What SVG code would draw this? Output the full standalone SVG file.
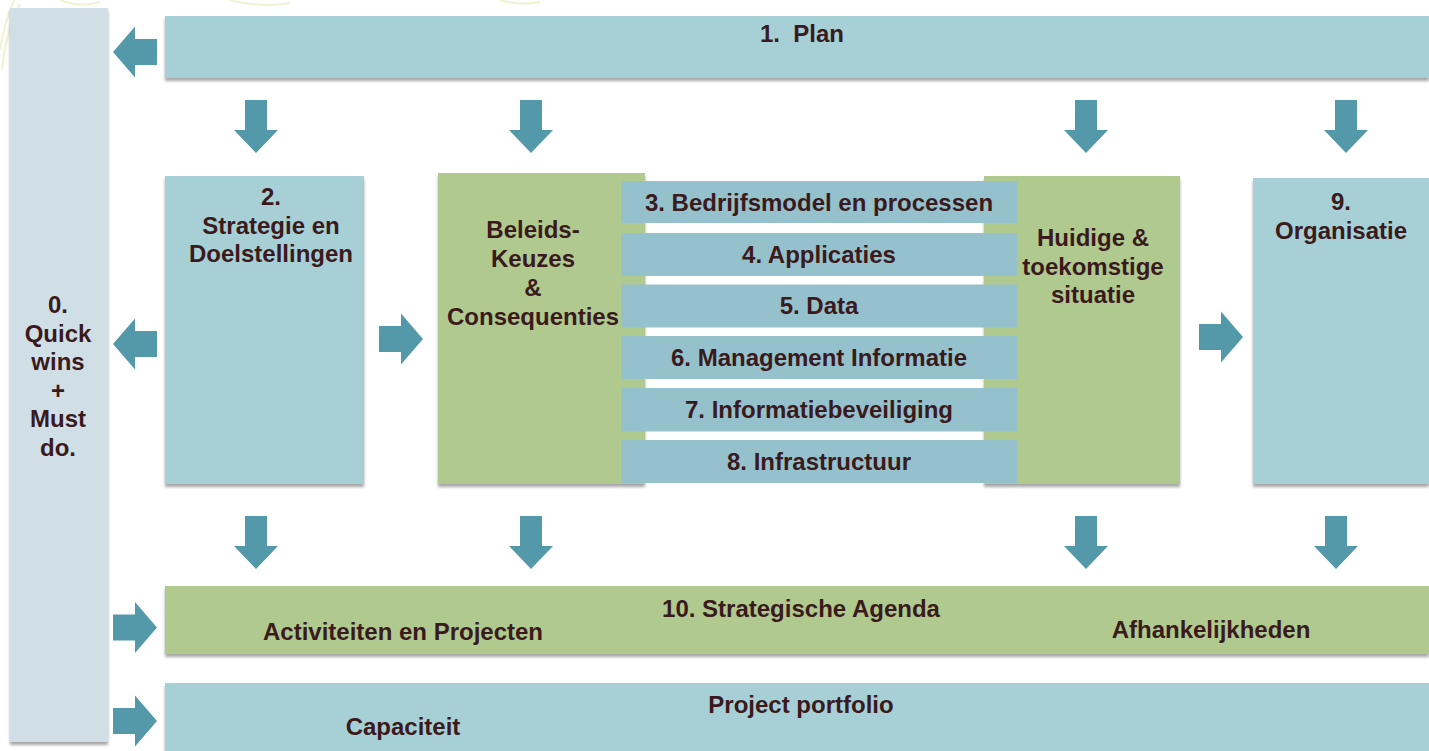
<svg xmlns="http://www.w3.org/2000/svg" width="1429" height="751" viewBox="0 0 1429 751">
<style>
.t{font-family:"Liberation Sans",Arial,sans-serif;font-weight:bold;font-size:24px;fill:#3a1a1c;text-anchor:middle}
.blue{fill:#a6d0d5}
.green{fill:#b0c98f}
.bar{fill:#95c1cd}
.q{fill:#d0dfe5}
.arr{fill:#5499a9}
.deco{fill:none;stroke:#f0f2d2;stroke-width:2}
</style>
<defs>
<filter id="sh" x="-5%" y="-5%" width="110%" height="120%">
<feDropShadow dx="0" dy="3" stdDeviation="1.5" flood-color="#000" flood-opacity="0.35"/>
</filter>
<path id="down" d="M-11,0 H11 V30 H22 L0,53 L-22,30 H-11 Z"/>
<path id="left" d="M0,0 L22,-25.5 V-13 H44 V13 H22 V25.5 Z"/>
<path id="right" d="M0,0 L-22,-25.5 V-13 H-44 V13 H-22 V25.5 Z"/>
</defs>
<rect width="1429" height="751" fill="#fff"/>
<g id="deco">
<path class="deco" d="M2,70 Q6,30 20,4"/>
<path class="deco" d="M0,50 Q5,20 14,0"/>
<path class="deco" d="M60,0 Q80,8 100,2"/>
<path class="deco" d="M230,0 Q260,8 290,3"/>
<path class="deco" d="M500,0 Q520,6 540,2"/>
</g>
<g id="n0"><rect class="q" x="10" y="8" width="98" height="734" filter="url(#sh)"/>
<text class="t"><tspan x="58" y="313">0.</tspan><tspan x="58" y="341.5">Quick</tspan><tspan x="58" y="370">wins</tspan><tspan x="58" y="398.5">+</tspan><tspan x="58" y="427">Must</tspan><tspan x="58" y="455.5">do.</tspan></text></g>
<g id="n1"><rect class="blue" x="165" y="16" width="1264" height="62" filter="url(#sh)"/>
<text class="t" x="802" y="41.5" xml:space="preserve">1.  Plan</text></g>
<g id="n2"><rect class="blue" x="165" y="176" width="199" height="308" filter="url(#sh)"/>
<text class="t"><tspan x="271" y="205">2.</tspan><tspan x="271" y="234">Strategie en</tspan><tspan x="271" y="262">Doelstellingen</tspan></text></g>
<g id="nbeleids"><rect class="green" x="438" y="173" width="207" height="311" filter="url(#sh)"/>
<text class="t"><tspan x="533" y="238">Beleids-</tspan><tspan x="533" y="267">Keuzes</tspan><tspan x="533" y="296">&amp;</tspan><tspan x="533" y="325">Consequenties</tspan></text></g>
<g id="nhuidig"><rect class="green" x="984" y="176" width="196" height="308" filter="url(#sh)"/>
<text class="t"><tspan x="1093" y="246">Huidige &amp;</tspan><tspan x="1093" y="275">toekomstige</tspan><tspan x="1093" y="303">situatie</tspan></text></g>
<g id="n3"><rect class="bar" x="621" y="181" width="396" height="42"/><text class="t" x="819" y="211">3. Bedrijfsmodel en processen</text></g>
<g id="n4"><rect class="bar" x="621" y="233" width="396" height="43"/><text class="t" x="819" y="262.5">4. Applicaties</text></g>
<g id="n5"><rect class="bar" x="621" y="284.5" width="396" height="43"/><text class="t" x="819" y="314">5. Data</text></g>
<g id="n6"><rect class="bar" x="621" y="336" width="396" height="43"/><text class="t" x="819" y="366">6. Management Informatie</text></g>
<g id="n7"><rect class="bar" x="621" y="388" width="396" height="43.5"/><text class="t" x="819" y="418">7. Informatiebeveiliging</text></g>
<g id="n8"><rect class="bar" x="621" y="440" width="396" height="43"/><text class="t" x="819" y="470">8. Infrastructuur</text></g>
<g id="n9"><rect class="blue" x="1253" y="178" width="176" height="306" filter="url(#sh)"/>
<text class="t"><tspan x="1341" y="210">9.</tspan><tspan x="1341" y="239">Organisatie</tspan></text></g>
<g id="n10"><rect class="green" x="165" y="586" width="1264" height="68" filter="url(#sh)"/>
<text class="t" x="801" y="617">10. Strategische Agenda</text>
<text class="t" x="403" y="640">Activiteiten en Projecten</text>
<text class="t" x="1211" y="638">Afhankelijkheden</text></g>
<g id="n11"><rect class="blue" x="165" y="683" width="1264" height="70" filter="url(#sh)"/>
<text class="t" x="801" y="713">Project portfolio</text>
<text class="t" x="403" y="735">Capaciteit</text></g>
<g id="connectors" class="arr">
<use href="#left" x="113" y="52"/>
<use href="#left" x="113" y="344"/>
<use href="#right" x="157" y="627.5"/>
<use href="#right" x="157" y="721"/>
<use href="#right" x="423" y="339"/>
<use href="#right" x="1243" y="337"/>
<use href="#down" x="256" y="100"/>
<use href="#down" x="531" y="100"/>
<use href="#down" x="1086" y="100"/>
<use href="#down" x="1346" y="100"/>
<use href="#down" x="256" y="516"/>
<use href="#down" x="531" y="516"/>
<use href="#down" x="1086" y="516"/>
<use href="#down" x="1336" y="516"/>
</g>
</svg>
